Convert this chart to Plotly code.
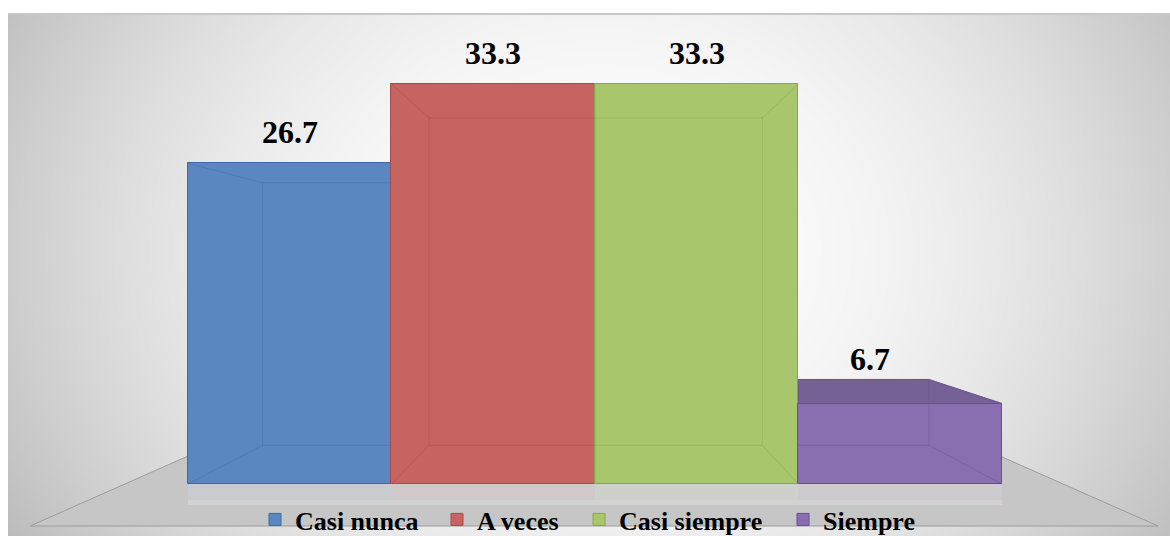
import base64
import struct
import zlib

import numpy as np
import plotly.graph_objects as go

# ---------------- data ----------------
categories = ["Casi nunca", "A veces", "Casi siempre", "Siempre"]
values = [26.7, 33.3, 33.3, 6.7]

# ---------------- style ----------------
face_colors = ["#5b87c1", "#c66462", "#a8c66c", "#8a6fb0"]
edge_colors = ["#3d6aa6", "#a94a48", "#86a84c", "#66508c"]
top_colors = ["#4a74ad", "#b05452", "#95b65a", "#6f5a91"]
legend_widths = [137, 97, 159, 100]
label_xshift = [0, 0, 0, -30]
label_gap = [19, 19, 19, 33]

W, H = 1170, 536
XR = (-1.4238, 4.3256)
YR = (-4.329, 40.293)


def px_x(p):
    return XR[0] + p / W * (XR[1] - XR[0])


def px_y(p):
    return YR[1] - p / H * (YR[1] - YR[0])


# ---------------- background image (gradient panel) ----------------
yy, xx = np.mgrid[0:H, 0:W].astype(float)
t2 = ((xx - 600) / 620) ** 2 + ((yy - 250) / 520) ** 2
g = np.clip(255 - 55 * t2, 150, 250)
img = np.repeat(g[..., None], 3, axis=2)
img[:13, :, :] = 255
img[:, :8, :] = 255
img[13:15, 8:, :] = 200
img = img.astype(np.uint8)


def png_bytes(arr):
    h, w, _ = arr.shape
    raw = b"".join(b"\x00" + arr[r].tobytes() for r in range(h))

    def chunk(tag, data):
        c = struct.pack(">I", len(data)) + tag + data
        return c + struct.pack(">I", zlib.crc32(tag + data) & 0xFFFFFFFF)

    return (b"\x89PNG\r\n\x1a\n"
            + chunk(b"IHDR", struct.pack(">IIBBBBB", w, h, 8, 2, 0, 0, 0))
            + chunk(b"IDAT", zlib.compress(raw, 9))
            + chunk(b"IEND", b""))


bg_src = "data:image/png;base64," + base64.b64encode(png_bytes(img)).decode()

fig = go.Figure()

for i, (cat, v) in enumerate(zip(categories, values)):
    fig.add_trace(go.Bar(
        x=[i], y=[v], name=cat, width=1,
        marker=dict(color=face_colors[i], line=dict(color=edge_colors[i], width=1)),
        legendwidth=legend_widths[i],
        hoverinfo="skip",
    ))

shapes = []
# floor
fl = [(30, 526), (213, 445), (975, 445), (1158, 526)]
path = "M " + " L ".join(f"{px_x(a):.4f},{px_y(b):.4f}" for a, b in fl) + " Z"
shapes.append(dict(type="path", path=path, xref="x", yref="y", layer="below",
                   fillcolor="#c6c6c6", line=dict(color="#9c9c9c", width=1)))
# light band / reflections under bars
for i, v in enumerate(values):
    shapes.append(dict(type="rect", xref="x", yref="y", layer="below",
                       x0=i - 0.5, x1=i + 0.5, y0=0, y1=px_y(505),
                       fillcolor="rgba(255,255,255,0.22)", line=dict(width=0)))
    shapes.append(dict(type="rect", xref="x", yref="y", layer="below",
                       x0=i - 0.5, x1=i + 0.5, y0=0, y1=px_y(500),
                       fillcolor=face_colors[i], opacity=0.08, line=dict(width=0)))

# perspective box decorations
VX, VY = px_x(599), px_y(271)
K = 0.8186


def hom(p):
    return (VX + K * (p[0] - VX), VY + K * (p[1] - VY))


def clip_seg(a, b, lo, hi):
    (ax, ay), (bx, by) = a, b
    t0, t1 = 0.0, 1.0
    dx = bx - ax
    if abs(dx) < 1e-12:
        if ax < lo - 1e-9 or ax > hi + 1e-9:
            return None
        return a, b
    for edge, sign in ((lo, 1), (hi, -1)):
        t = (edge - ax) / dx
        if sign * dx > 0:
            t0 = max(t0, t)
        else:
            t1 = min(t1, t)
    if t0 >= t1 - 1e-9:
        return None
    return ((ax + t0 * dx, ay + t0 * (by - ay)), (ax + t1 * dx, ay + t1 * (by - ay)))


def clip_poly(pts, lo, hi):
    def clip(pts, inside, inter):
        out = []
        for k in range(len(pts)):
            p, q = pts[k], pts[(k + 1) % len(pts)]
            if inside(q):
                if not inside(p):
                    out.append(inter(p, q))
                out.append(q)
            elif inside(p):
                out.append(inter(p, q))
        return out

    def inter_x(xv):
        def f(p, q):
            t = (xv - p[0]) / (q[0] - p[0])
            return (xv, p[1] + t * (q[1] - p[1]))
        return f

    pts = clip(pts, lambda p: p[0] >= lo, inter_x(lo))
    if pts:
        pts = clip(pts, lambda p: p[0] <= hi, inter_x(hi))
    return pts


for i, v in enumerate(values):
    x0, x1 = i - 0.5, i + 0.5
    F = [(x0, 0), (x1, 0), (x1, v), (x0, v)]
    B = [hom(p) for p in F]
    if v < VY:
        poly = clip_poly([F[3], F[2], B[2], B[3]], x0, x1)
        if poly:
            pth = "M " + " L ".join(f"{p[0]:.4f},{p[1]:.4f}" for p in poly) + " Z"
            shapes.append(dict(type="path", path=pth, xref="x", yref="y", layer="above",
                               fillcolor=top_colors[i], opacity=0.95,
                               line=dict(color=edge_colors[i], width=1)))
    for j in range(4):
        for a, b in ((B[j], B[(j + 1) % 4]), (F[j], B[j])):
            c = clip_seg(a, b, x0, x1)
            if c:
                shapes.append(dict(type="line", xref="x", yref="y", layer="above",
                                   x0=c[0][0], y0=c[0][1], x1=c[1][0], y1=c[1][1],
                                   line=dict(color=edge_colors[i], width=1), opacity=0.4))

annotations = []
for i, v in enumerate(values):
    annotations.append(dict(
        x=i, y=v, xref="x", yref="y", text=f"{v:.1f}", showarrow=False,
        yanchor="bottom", xanchor="center", yshift=label_gap[i] - 8,
        xshift=label_xshift[i],
        font=dict(family="Liberation Serif", size=32, color="black", weight="bold"),
    ))

fig.update_layout(
    width=W, height=H,
    margin=dict(l=0, r=0, t=0, b=0, autoexpand=False),
    paper_bgcolor="white",
    plot_bgcolor="rgba(0,0,0,0)",
    barmode="overlay",
    bargap=0,
    images=[dict(source=bg_src, xref="paper", yref="paper", x=0, y=1,
                 sizex=1, sizey=1, xanchor="left", yanchor="top",
                 sizing="stretch", layer="below")],
    shapes=shapes,
    annotations=annotations,
    xaxis=dict(range=list(XR), visible=False, fixedrange=True),
    yaxis=dict(range=list(YR), visible=False, fixedrange=True),
    showlegend=True,
    legend=dict(orientation="h", x=255 / W, xanchor="left",
                y=1 - 496 / H, yanchor="top",
                bgcolor="rgba(0,0,0,0)", traceorder="normal",
                font=dict(family="Liberation Serif", size=26, color="black", weight="bold")),
)

fig.write_html("out.html")
